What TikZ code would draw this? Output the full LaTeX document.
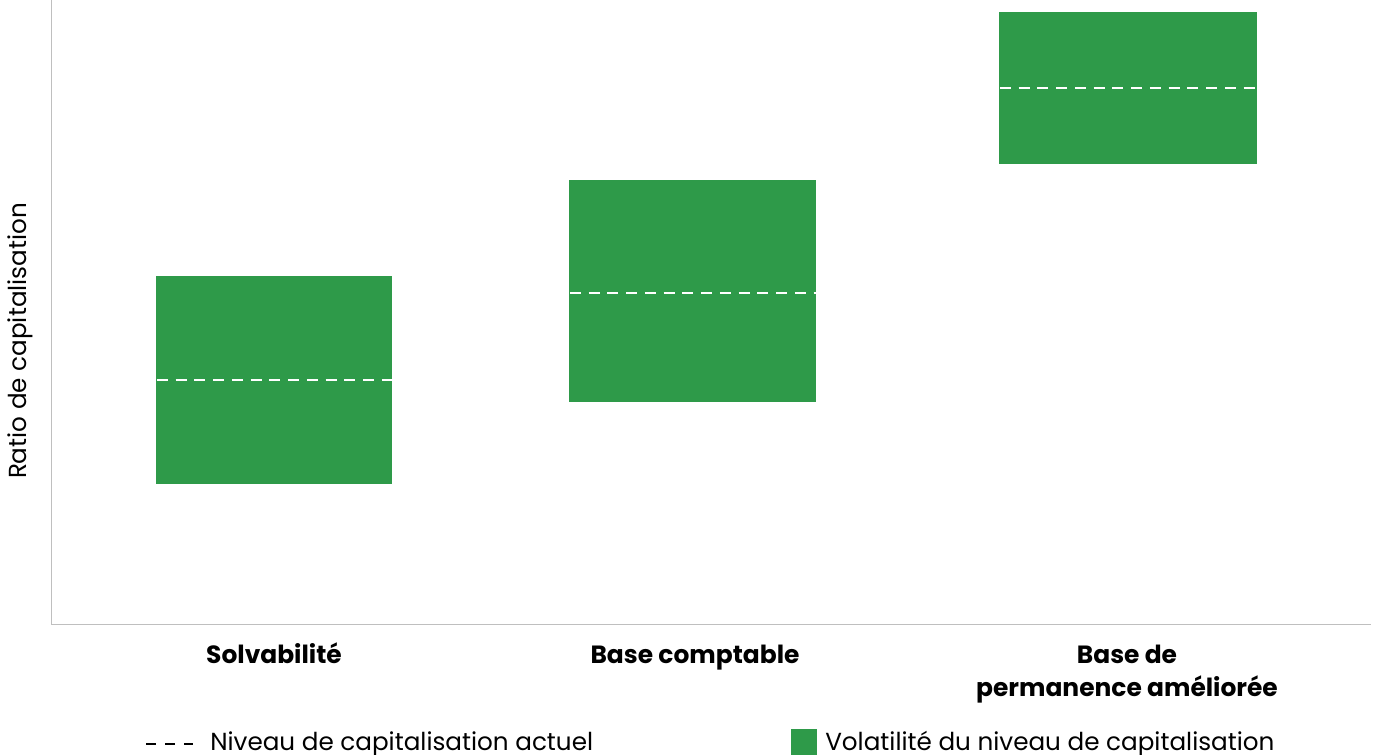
\documentclass[tikz,border=0pt]{standalone}
\usepackage{fontspec}
\setmainfont{Poppins}
\usetikzlibrary{positioning}
\definecolor{volgreen}{RGB}{46,154,73}
\definecolor{axisgray}{RGB}{191,191,191}

\tikzset{
  catlabel/.style={font=\fontsize{18.7}{24.75}\selectfont\bfseries, align=center, inner sep=0pt, anchor=base},
  legtext/.style={font=\fontsize{18.5}{22}\selectfont, anchor=base west, inner sep=0pt},
  midline/.style={white, line width=1.5pt, dash pattern=on 8.25pt off 5.8pt},
}

\begin{document}
\begin{tikzpicture}[x=0.75pt,y=0.75pt,yscale=-1,xscale=1]
\useasboundingbox (0,0) rectangle (1377,755);

% axes
\draw [axisgray, line width=1.2pt] (51.5,0) -- (51.5,624.5) -- (1371,624.5);
\node [rotate=90, font=\fontsize{18.5}{22}\selectfont, inner sep=0pt] (ylab) at (20,341) {Ratio de capitalisation};

% bars
\fill [volgreen] (156,276) rectangle (392,484);
\draw [midline] (157,380) -- (392,380);

\fill [volgreen] (569,180) rectangle (816,402);
\draw [midline] (570,293) -- (816,293);

\fill [volgreen] (999,12) rectangle (1257,164);
\draw [midline] (1000,88) -- (1257,88);

% categories
\node [catlabel] (solv) at (274,663) {Solvabilité};
\node [catlabel] (compt) at (695,663) {Base comptable};
\node [catlabel] (perm) at (1127,696) {Base de\\permanence améliorée};

% legend
\draw [black, line width=1.6pt, dash pattern=on 7.5pt off 6.75pt] (146,744) -- (193,744);
\node [legtext] (legniv) at (210,750) {Niveau de capitalisation actuel};
\fill [volgreen] (791,729) rectangle (816.5,756);
\node [legtext] (legvol) at (825,750) {Volatilité du niveau de capitalisation};

\end{tikzpicture}
\end{document}
